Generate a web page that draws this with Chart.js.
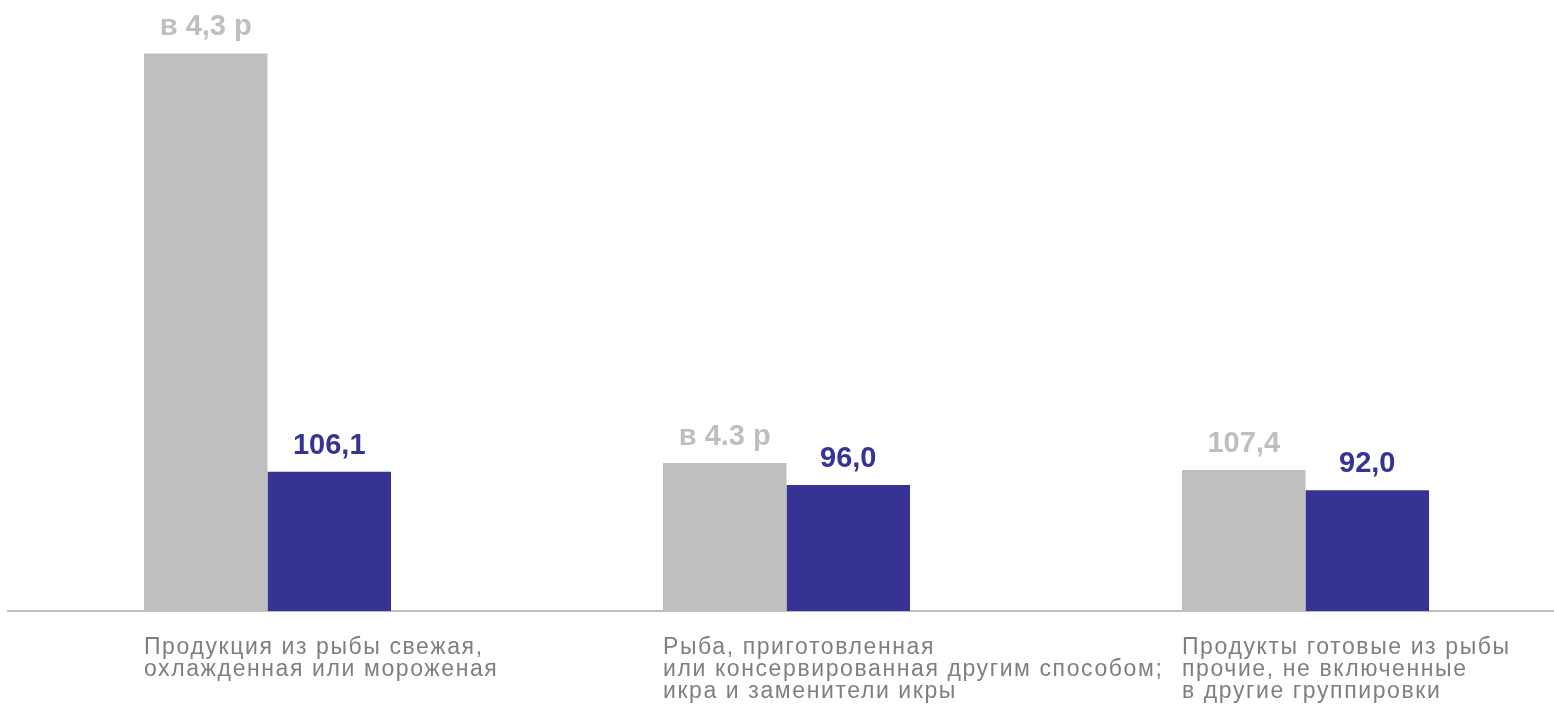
<!DOCTYPE html>
<html>
<head>
<meta charset="utf-8">
<script src="https://cdn.jsdelivr.net/npm/chart.js@4.4.1/dist/chart.umd.min.js"></script>
<style>
  html, body { margin: 0; padding: 0; background: #fff; overflow: hidden; }
  #wrap { position: relative; width: 1566px; height: 709px; }
</style>
</head>
<body>
<div id="wrap"><canvas id="fishChart"></canvas></div>
<script>
const categories = [
    ['Продукция из рыбы свежая,', 'охлажденная или мороженая'],
    ['Рыба, приготовленная', 'или консервированная другим способом;', 'икра и заменители икры'],
    ['Продукты готовые из рыбы', 'прочие, не включенные', 'в другие группировки']
];
const greyValues = [425, 112.8, 107.4];
const blueValues = [106.1, 96.0, 92.0];
const greyLabels = ['в 4,3 р', 'в 4.3 р', '107,4'];
const blueLabels = ['106,1', '96,0', '92,0'];

const GREY = '#bfbfbf';
const BLUE = '#363394';

// value labels above the bars
const barLabels = {
    id: 'barLabels',
    afterDatasetsDraw(chart) {
        const ctx = chart.ctx;
        ctx.save();
        ctx.font = 'bold 29px "Liberation Sans", Arial, sans-serif';
        ctx.textAlign = 'center';
        ctx.textBaseline = 'alphabetic';
        chart.data.datasets.forEach((ds, di) => {
            const meta = chart.getDatasetMeta(di);
            meta.data.forEach((bar, i) => {
                ctx.fillStyle = ds.backgroundColor;
                ctx.fillText(ds.valueLabels[i], bar.x, bar.y - 18);
            });
        });
        ctx.restore();
    }
};

// category labels, left aligned with the first bar of each group
const catLabels = {
    id: 'catLabels',
    afterDraw(chart) {
        const ctx = chart.ctx;
        const meta = chart.getDatasetMeta(0);
        const bottom = chart.chartArea.bottom;
        ctx.save();
        ctx.font = '23px "Liberation Sans", Arial, sans-serif';
        ctx.letterSpacing = '1.6px';
        ctx.fillStyle = '#7f7f7f';
        ctx.textAlign = 'left';
        ctx.textBaseline = 'alphabetic';
        meta.data.forEach((bar, i) => {
            const left = bar.x - bar.width / 2;
            categories[i].forEach((line, li) => {
                ctx.fillText(line, left, bottom + 43 + li * 22);
            });
        });
        ctx.restore();
    }
};

new Chart(document.getElementById('fishChart'), {
    type: 'bar',
    data: {
        labels: categories.map(c => c.join(' ')),
        datasets: [{
            data: greyValues,
            valueLabels: greyLabels,
            backgroundColor: GREY,
            categoryPercentage: 0.476,
            barPercentage: 1
        }, {
            data: blueValues,
            valueLabels: blueLabels,
            backgroundColor: BLUE,
            categoryPercentage: 0.476,
            barPercentage: 1
        }]
    },
    options: {
        responsive: true,
        maintainAspectRatio: false,
        animation: false,
        layout: { padding: { left: 8, right: 1, top: 0, bottom: 0 } },
        plugins: {
            legend: { display: false },
            tooltip: { enabled: false }
        },
        scales: {
            x: {
                grid: { display: false },
                border: { display: true, color: GREY, width: 2 },
                ticks: { display: false },
                afterFit: s => { s.height = 98; }
            },
            y: {
                display: false,
                min: 0,
                max: 465.7
            }
        }
    },
    plugins: [barLabels, catLabels]
});
</script>
</body>
</html>
